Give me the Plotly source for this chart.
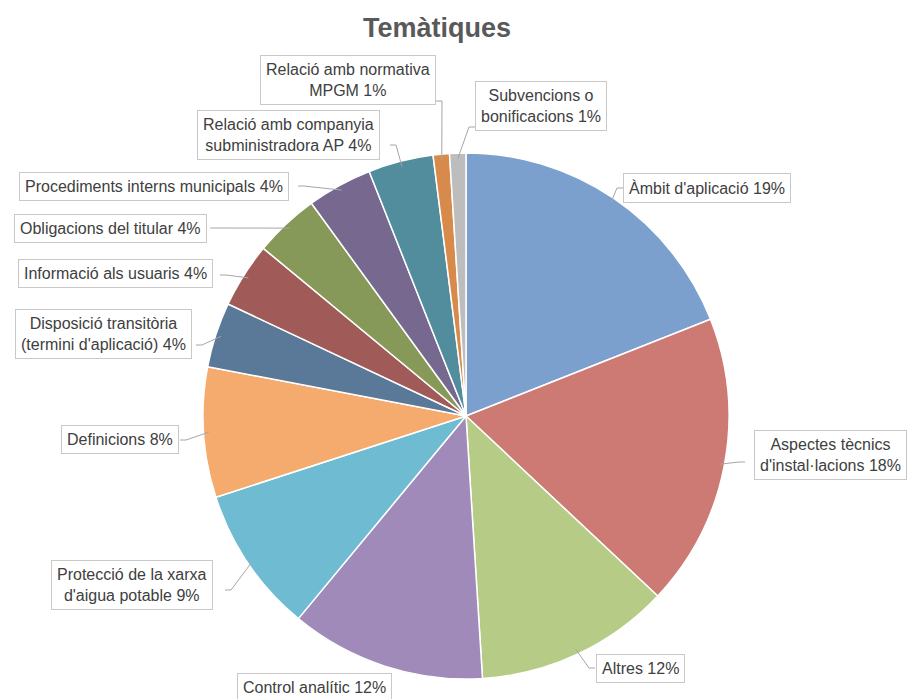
import math
import plotly.graph_objects as go

# ---- data ----
categories = [
    "Àmbit d'aplicació",
    "Aspectes tècnics d'instal·lacions",
    "Altres",
    "Control analític",
    "Protecció de la xarxa d'aigua potable",
    "Definicions",
    "Disposició transitòria (termini d'aplicació)",
    "Informació als usuaris",
    "Obligacions del titular",
    "Procediments interns municipals",
    "Relació amb companyia subministradora AP",
    "Relació amb normativa MPGM",
    "Subvencions o bonificacions",
]
values = [19, 18, 12, 12, 9, 8, 4, 4, 4, 4, 4, 1, 1]
label_texts = [
    "Àmbit d'aplicació 19%",
    "Aspectes tècnics<br>d'instal·lacions 18%",
    "Altres 12%",
    "Control analític 12%",
    "Protecció de la xarxa<br>d'aigua potable 9%",
    "Definicions 8%",
    "Disposició transitòria<br>(termini d'aplicació) 4%",
    "Informació als usuaris 4%",
    "Obligacions del titular 4%",
    "Procediments interns municipals 4%",
    "Relació amb companyia<br>subministradora AP 4%",
    "Relació amb normativa<br>MPGM 1%",
    "Subvencions o<br>bonificacions 1%",
]
colors = ["#7BA0CE", "#CE7A74", "#B5CB86", "#A08ABA", "#6FBCD2", "#F5AA6E",
          "#5A7898", "#A05B58", "#879959", "#76688F", "#528D9D", "#D88A4A", "#BDBDBD"]

# ---- layout geometry (window pixels; page body has an 8px margin) ----
OFF = 8
W, H = 919 - OFF, 699 - OFF
CX, CY, R = 466, 416, 263
label_pos = [(707, 188), (830, 455), (640, 668), (314, 687), (132, 585), (120, 440),
             (103, 334), (115, 273), (110, 228), (154, 186), (288, 135), (348, 80), (541, 106)]
anchors = [(623, 188), (745, 462), (595, 668), None, (225, 590), (180, 440),
           (196, 345), (220, 275), (210, 228), (298, 186), (390, 145), (436, 101), (475, 127)]

def px(x):
    return (x - OFF) / W

def py(y):
    return 1 - (y - OFF) / H

fig = go.Figure(go.Pie(
    labels=categories, values=values, sort=False, direction="clockwise", rotation=0,
    marker=dict(colors=colors, line=dict(color="white", width=1.5)),
    textinfo="none", hoverinfo="label+percent", showlegend=False,
    domain=dict(x=[px(CX - R), px(CX + R)], y=[py(CY + R), py(CY - R)]),
))

total = sum(values)
cum = 0
shapes = []
annotations = []
for i, v in enumerate(values):
    mid = (cum + v / 2) / total
    cum += v
    ang = 2 * math.pi * mid
    ex = CX + R * 0.98 * math.sin(ang)
    ey = CY - R * 0.98 * math.cos(ang)
    lx, ly = label_pos[i]
    annotations.append(dict(
        x=px(lx), y=py(ly), xref="paper", yref="paper", text=label_texts[i],
        showarrow=False, xanchor="center", yanchor="middle", align="center",
        font=dict(family="Liberation Sans, Arial, sans-serif", size=16, color="#404040"),
        bgcolor="white", bordercolor="#C8C8C8", borderwidth=1, borderpad=5,
    ))
    a = anchors[i]
    if a is not None:
        ax, ay = a
        path = f"M {px(ax)} {py(ay)} L {px(ax - 6 if ax > ex else ax + 6)} {py(ay)} L {px(ex)} {py(ey)}"
        shapes.append(dict(type="path", xref="paper", yref="paper", path=path,
                           line=dict(color="#A6A6A6", width=1)))

annotations.append(dict(
    x=px(437), y=py(28), xref="paper", yref="paper", text="<b>Temàtiques</b>",
    showarrow=False, xanchor="center", yanchor="middle",
    font=dict(family="Liberation Sans, Arial, sans-serif", size=27, color="#595959"),
))

fig.update_layout(
    width=W, height=H, margin=dict(l=0, r=0, t=0, b=0),
    paper_bgcolor="white", plot_bgcolor="white",
    annotations=annotations, shapes=shapes,
)
fig.write_html("out.html")
